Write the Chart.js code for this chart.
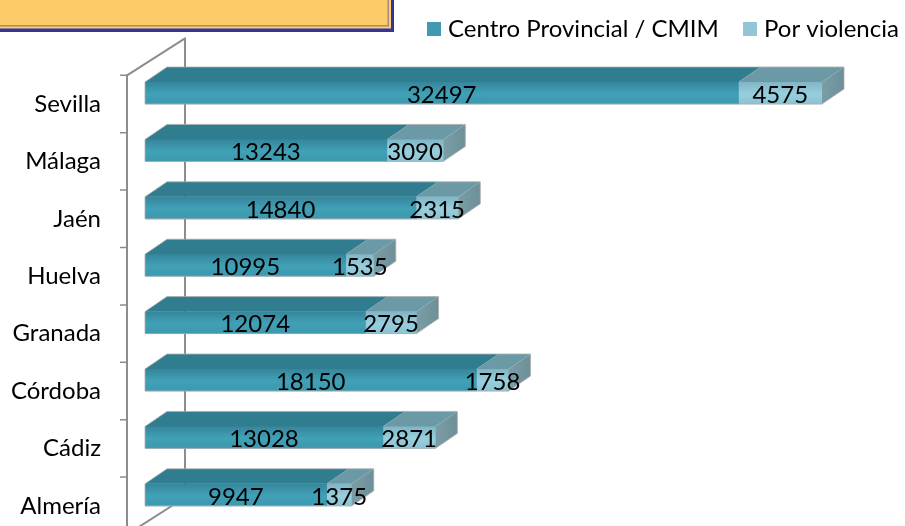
<!DOCTYPE html>
<html>
<head>
<meta charset="utf-8">
<script src="https://cdn.jsdelivr.net/npm/chart.js@4.4.1/dist/chart.umd.min.js"></script>
<style>
  html, body { margin: 0; padding: 0; background: #fff; }
  #wrap { width: 905px; height: 526px; position: relative; }
</style>
</head>
<body>
<div id="wrap"><canvas id="grafico" width="905" height="526"></canvas></div>
<script>
// Atenciones por provincia
const provincias = ['Sevilla', 'Málaga', 'Jaén', 'Huelva', 'Granada', 'Córdoba', 'Cádiz', 'Almería'];
const centroProvincial = [32497, 13243, 14840, 10995, 12074, 18150, 13028, 9947];
const porViolencia = [4575, 3090, 2315, 1535, 2795, 1758, 2871, 1375];
const nombresSeries = ['Centro Provincial / CMIM', 'Por violencia'];

const FUENTE = 'Lato, "Open Sans", sans-serif';
const PROF_X = 22, PROF_Y = -15;      // fondo de cada barra 3D
const PARED_X = 58, PARED_Y = -37;    // fondo de las paredes
const DESPL_ETIQUETA = 11;            // las etiquetas quedan sobre el suelo

const estilos = [
  { leyenda: '#4198b0', frente: ['#35869c', '#41a1b7', '#3c98ae'], techo: '#317d90', lado: '#2e6f7f' },
  { leyenda: '#92c5d5', frente: ['#7fb6c6', '#98cedd', '#8cc3d3'], techo: '#6b9aa6', lado: '#7a9da6' }
];

function degradadoFrente(ctx, serie) {
  const chart = ctx.chart;
  const y = chart.scales && chart.scales.y;
  const c = estilos[serie].frente;
  if (!y || ctx.dataIndex === undefined) return c[1];
  const cy = y.getPixelForValue(ctx.dataIndex);
  if (!isFinite(cy)) return c[1];
  const g = chart.ctx.createLinearGradient(0, cy - 11, 0, cy + 11);
  g.addColorStop(0, c[0]);
  g.addColorStop(0.55, c[1]);
  g.addColorStop(1, c[2]);
  return g;
}

// Paredes y marcas del eje vertical
const paredes = {
  id: 'paredes',
  beforeDatasetsDraw(chart) {
    const { ctx, chartArea, scales: { y } } = chart;
    const paso = y.getPixelForValue(1) - y.getPixelForValue(0);
    const x0 = chartArea.left - 18;
    const arriba = y.getPixelForValue(0) - paso / 2 + DESPL_ETIQUETA;
    const abajo = arriba + paso * provincias.length;
    ctx.save();
    ctx.strokeStyle = '#8c8c8c';
    ctx.lineWidth = 2;
    ctx.lineJoin = 'round';
    ctx.beginPath();
    ctx.moveTo(x0, abajo);
    ctx.lineTo(x0, arriba);
    ctx.lineTo(x0 + PARED_X, arriba + PARED_Y);
    ctx.lineTo(x0 + PARED_X, abajo + PARED_Y);
    ctx.lineTo(x0, abajo);
    ctx.stroke();
    ctx.lineWidth = 1.5;
    ctx.beginPath();
    for (let i = 0; i <= provincias.length; i++) {
      const ty = arriba + paso * i;
      ctx.moveTo(x0 - 7, ty);
      ctx.lineTo(x0, ty);
    }
    ctx.stroke();
    ctx.restore();
  }
};

// Caras superior y lateral de las barras, y valores
const volumen = {
  id: 'volumen',
  afterDatasetsDraw(chart) {
    const { ctx } = chart;
    const metas = chart.data.datasets.map((d, i) => chart.getDatasetMeta(i));
    ctx.save();
    ctx.lineWidth = 1;
    ctx.strokeStyle = 'rgba(175,175,175,0.8)';
    provincias.forEach((p, idx) => {
      let ultima = null;
      metas.forEach((meta, s) => {
        const bar = meta.data[idx];
        const x1 = Math.min(bar.base, bar.x), x2 = Math.max(bar.base, bar.x);
        const yt = bar.y - bar.height / 2;
        if (x2 - x1 <= 0) return;
        ctx.fillStyle = estilos[s].techo;
        ctx.beginPath();
        ctx.moveTo(x1, yt);
        ctx.lineTo(x2, yt);
        ctx.lineTo(x2 + PROF_X, yt + PROF_Y);
        ctx.lineTo(x1 + PROF_X, yt + PROF_Y);
        ctx.closePath();
        ctx.fill();
        ultima = { s, x2, yt, yb: bar.y + bar.height / 2 };
      });
      if (ultima) {
        const { s, x2, yt, yb } = ultima;
        const g = ctx.createLinearGradient(x2, 0, x2 + PROF_X, 0);
        g.addColorStop(0, estilos[s].lado);
        g.addColorStop(1, '#6d8f98');
        ctx.fillStyle = g;
        ctx.beginPath();
        ctx.moveTo(x2, yt);
        ctx.lineTo(x2 + PROF_X, yt + PROF_Y);
        ctx.lineTo(x2 + PROF_X, yb + PROF_Y);
        ctx.lineTo(x2, yb);
        ctx.closePath();
        ctx.fill();
        // contorno claro de la barra completa
        const b0 = metas[0].data[idx].base;
        ctx.beginPath();
        ctx.moveTo(b0, yt);
        ctx.lineTo(b0 + PROF_X, yt + PROF_Y);
        ctx.lineTo(x2 + PROF_X, yt + PROF_Y);
        ctx.lineTo(x2 + PROF_X, yb + PROF_Y);
        ctx.lineTo(x2, yb);
        ctx.lineTo(b0, yb);
        ctx.closePath();
        ctx.stroke();
      }
    });
    // valores
    ctx.fillStyle = '#000';
    ctx.font = '24px ' + FUENTE;
    ctx.textAlign = 'center';
    ctx.textBaseline = 'middle';
    metas.forEach((meta, s) => {
      const datos = chart.data.datasets[s].data;
      meta.data.forEach((bar, idx) => {
        ctx.fillText(String(datos[idx]), (bar.x + bar.base) / 2, bar.y + 2);
      });
    });
    ctx.restore();
  }
};

// Recuadro superior y leyenda
const adornos = {
  id: 'adornos',
  afterDraw(chart) {
    const { ctx } = chart;
    ctx.save();
    ctx.fillStyle = '#34349c';
    ctx.fillRect(0, 0, 394, 32);
    ctx.fillStyle = '#ffcc66';
    ctx.fillRect(0, 0, 391, 28.5);
    ctx.fillStyle = '#a08a8a';
    ctx.fillRect(0, 0, 389, 26.5);
    ctx.fillStyle = '#fecb69';
    ctx.fillRect(0, 0, 387.5, 25);

    ctx.font = '24px ' + FUENTE;
    ctx.textBaseline = 'middle';
    ctx.textAlign = 'left';
    const posiciones = [427, 743];
    nombresSeries.forEach((n, i) => {
      ctx.fillStyle = estilos[i].leyenda;
      ctx.fillRect(posiciones[i], 22, 14, 14);
      ctx.fillStyle = '#000';
      ctx.fillText(n, posiciones[i] + 21, 29);
    });
    ctx.restore();
  }
};

new Chart(document.getElementById('grafico'), {
  type: 'bar',
  data: {
    labels: provincias,
    datasets: [
      { label: nombresSeries[0], data: centroProvincial, backgroundColor: (c) => degradadoFrente(c, 0), borderWidth: 0, barThickness: 22 },
      { label: nombresSeries[1], data: porViolencia, backgroundColor: (c) => degradadoFrente(c, 1), borderWidth: 0, barThickness: 22 }
    ]
  },
  options: {
    indexAxis: 'y',
    responsive: false,
    animation: false,
    devicePixelRatio: 1,
    layout: { padding: { left: 0, right: 29.5, top: 64.3, bottom: 2.5 } },
    plugins: { legend: { display: false }, tooltip: { enabled: false }, title: { display: false } },
    scales: {
      x: { stacked: true, display: false, min: 0, max: 40000 },
      y: {
        stacked: true,
        afterFit(scale) {
          scale.width = 145;
          scale.paddingTop = 0;
          scale.paddingBottom = 0;
        },
        border: { display: false },
        grid: { display: false, drawTicks: false },
        ticks: { padding: 44, labelOffset: DESPL_ETIQUETA, color: '#000', font: { family: FUENTE, size: 24 } }
      }
    }
  },
  plugins: [paredes, volumen, adornos]
});
</script>
</body>
</html>
